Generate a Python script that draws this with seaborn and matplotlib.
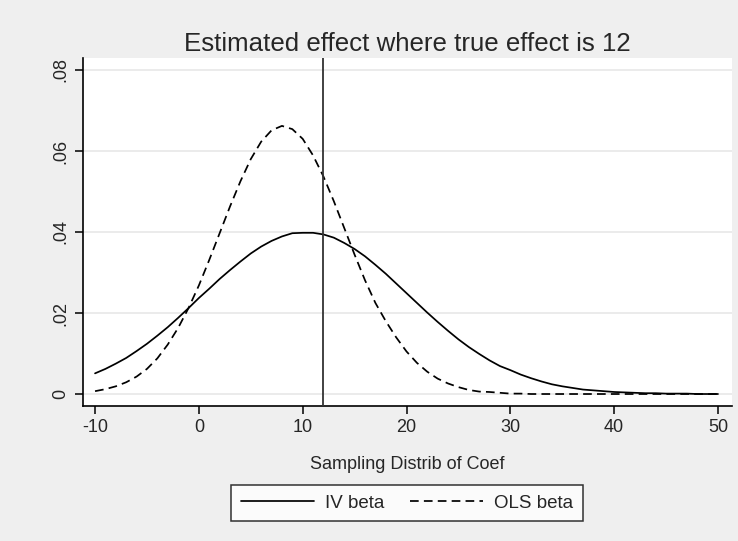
import matplotlib
matplotlib.use("Agg")
import matplotlib.pyplot as plt
import seaborn as sns
import pandas as pd

sns.set_theme(style="white")
plt.rcParams["font.family"] = ["Liberation Sans", "DejaVu Sans"]

TRUE_EFFECT = 12

# density readings, one per integer coef value
coef = list(range(-10, 51))
iv_beta = [
    0.0051, 0.0062, 0.0075, 0.0089, 0.0106, 0.0124, 0.0144, 0.0165, 0.0188, 0.0212,
    0.0237, 0.0260, 0.0284, 0.0306, 0.0327, 0.0347, 0.0364, 0.0378, 0.0389, 0.0397,
    0.0398, 0.0398, 0.0394, 0.0386, 0.0373, 0.0358, 0.0340, 0.0319, 0.0297, 0.0273,
    0.0249, 0.0225, 0.0201, 0.0178, 0.0156, 0.0135, 0.0116, 0.0099, 0.0083, 0.0069,
    0.0059, 0.0048, 0.0039, 0.0031, 0.0024, 0.0019, 0.0015, 0.0011, 0.0009, 0.0007,
    0.0005, 0.0004, 0.0003, 0.0002, 0.0002, 0.0001, 0.0001, 0.0001, 0.0000, 0.0000,
    0.0000,
]
ols_beta = [
    0.0007, 0.0012, 0.0019, 0.0029, 0.0043, 0.0062, 0.0088, 0.0122, 0.0163, 0.0212,
    0.0268, 0.0331, 0.0397, 0.0463, 0.0525, 0.0580, 0.0623, 0.0651, 0.0662, 0.0654,
    0.0630, 0.0589, 0.0537, 0.0476, 0.0410, 0.0344, 0.0281, 0.0225, 0.0180, 0.0140,
    0.0105, 0.0077, 0.0055, 0.0038, 0.0026, 0.0017, 0.0010, 0.0006, 0.0005, 0.0003,
    0.0001, 0.0001, 0.0000, 0.0000, 0.0000, 0.0000, 0.0000, 0.0000, 0.0000, 0.0000,
    0.0000, 0.0000, 0.0000, 0.0000, 0.0000, 0.0000, 0.0000, 0.0000, 0.0000, 0.0000,
    0.0000,
]
x_ticks = [-10, 0, 10, 20, 30, 40, 50]
y_ticks = [0, 0.02, 0.04, 0.06, 0.08]
y_labels = ["0", ".02", ".04", ".06", ".08"]

df = pd.DataFrame({"coef": coef, "IV beta": iv_beta, "OLS beta": ols_beta})

bg = "#efefef"
fig = plt.figure(figsize=(7.38, 5.41), dpi=100, facecolor=bg)
ax = fig.add_axes([83 / 738, 1 - 406 / 541, 649 / 738, 348 / 541])
ax.set_facecolor("white")

sns.lineplot(data=df, x="coef", y="IV beta", color="black", lw=1.25,
             label="IV beta", ax=ax)
sns.lineplot(data=df, x="coef", y="OLS beta", color="black", lw=1.25,
             linestyle=(0, (5, 3)), label="OLS beta", ax=ax)
ax.axvline(TRUE_EFFECT, color="#333333", lw=1.3, zorder=3)

ax.set_xlim(-11.16, 51.35)
ax.set_ylim(-0.00296, 0.08296)
ax.set_xticks(x_ticks)
ax.set_xticklabels([str(t) for t in x_ticks])
ax.set_yticks(y_ticks)
ax.set_yticklabels(y_labels, rotation=90, va="center")
ax.tick_params(axis="both", labelsize=13, length=6, width=1.1, color="black",
               direction="out", pad=3)
ax.tick_params(axis="x", bottom=True)
ax.tick_params(axis="y", left=True, pad=4)

ax.grid(axis="y", color="#e6e6e6", lw=1.1)
ax.grid(axis="x", visible=False)
ax.set_axisbelow(True)
for side in ["top", "right"]:
    ax.spines[side].set_visible(False)
for side in ["left", "bottom"]:
    ax.spines[side].set_color("black")
    ax.spines[side].set_linewidth(1.2)

ax.set_ylabel("")
ax.set_xlabel("Sampling Distrib of Coef", fontsize=13)
ax.xaxis.set_label_coords(0.5, -0.145)

handles, labels = ax.get_legend_handles_labels()
ax.get_legend().remove()
leg = fig.legend(handles, labels, loc="center", bbox_to_anchor=(407 / 738, 1 - 503 / 541),
                 ncol=2, fontsize=13.5, frameon=True, fancybox=False,
                 edgecolor="black", handlelength=3.9, handletextpad=0.6,
                 columnspacing=1.35, borderpad=0.5)
leg.get_frame().set_linewidth(1.1)
leg.get_frame().set_facecolor("white")

fig.text(407 / 738, 1 - 51 / 541, "Estimated effect where true effect is 12",
         ha="center", va="baseline", fontsize=18.6)

fig.savefig("out.png", dpi=100, facecolor=bg)
